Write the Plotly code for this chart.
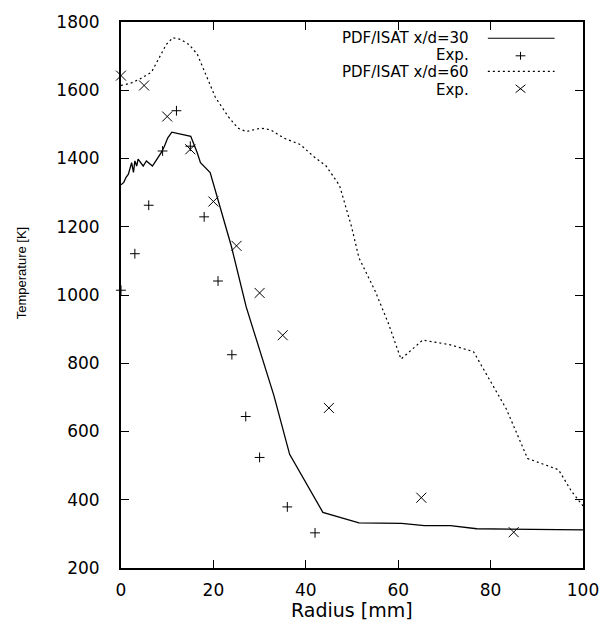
import plotly.graph_objects as go

# ---- data ----
r_pdf30 = [0, 0.6, 1.1, 1.6, 2.3, 2.7, 3.0, 3.4, 3.7, 4.2, 4.8, 5.5, 6.2, 6.8, 7.4, 8.0, 8.7, 9.4, 10.1, 11.0,
           15.1, 16.5, 17.2, 19.3, 21.4, 23.9, 27.1, 33.1, 36.5, 43.7, 51.5, 60.7, 65.7, 71.3, 77.0, 85.0, 100]
T_pdf30 = [1323, 1330, 1345, 1354, 1388, 1359, 1393, 1378, 1398, 1388, 1378, 1393, 1385, 1378, 1390, 1402, 1417, 1436, 1460, 1477,
           1465, 1417, 1388, 1359, 1258, 1142, 965, 705, 533, 363, 332, 331, 324, 324, 315, 314, 312]

r_pdf60 = [0, 2, 4.1, 6.6, 8.3, 9.8, 11.2, 12.9, 14.7, 16.5, 18.3, 20.4, 23.2, 25.3, 27.1, 30.3, 32.4, 35.2, 38.8,
           41.6, 44.4, 47.3, 49.9, 51.5, 55.0, 57.9, 60.6, 65.3, 71.3, 76.3, 77.7, 83.4, 88.0, 94.7, 97.5, 100]
T_pdf60 = [1614, 1620, 1633, 1653, 1696, 1734, 1754, 1749, 1734, 1706, 1648, 1580, 1523, 1489, 1479, 1489, 1484, 1460, 1441,
           1407, 1378, 1321, 1200, 1109, 1012, 916, 812, 868, 854, 834, 801, 666, 521, 488, 425, 382]

r_exp30 = [0, 3, 6, 9, 12, 15, 18, 21, 24, 27, 30, 36, 42]
T_exp30 = [1014, 1121, 1263, 1422, 1540, 1436, 1229, 1041, 825, 644, 524, 379, 303]

r_exp60 = [0, 5, 10, 15, 20, 25, 30, 35, 45, 65, 85]
T_exp60 = [1643, 1614, 1523, 1427, 1274, 1144, 1006, 882, 669, 406, 305]

legend_labels = ["PDF/ISAT x/d=30", "Exp.", "PDF/ISAT x/d=60", "Exp."]

# ---- layout geometry (pixels) ----
W, H = 611, 626
L, R, T, B = 121, 592, 14, 568


def px(x):
    return (x - L) / (R - L)


def py(y):
    return (B - y) / (B - T)


fig = go.Figure()
fig.add_trace(go.Scatter(x=r_pdf30, y=T_pdf30, mode="lines", line=dict(color="black", width=1.3),
                         showlegend=False))
fig.add_trace(go.Scatter(x=r_exp30, y=T_exp30, mode="markers", cliponaxis=False,
                         marker=dict(symbol="cross-thin", size=7, line=dict(color="black", width=1)),
                         showlegend=False))
fig.add_trace(go.Scatter(x=r_pdf60, y=T_pdf60, mode="lines", line=dict(color="black", width=1.2, dash="2px,3px"),
                         showlegend=False))
fig.add_trace(go.Scatter(x=r_exp60, y=T_exp60, mode="markers", cliponaxis=False,
                         marker=dict(symbol="x-thin", size=10, line=dict(color="black", width=1)),
                         showlegend=False))

font_main = "DejaVu Sans"
axis_common = dict(showline=True, linecolor="black", linewidth=2, mirror="allticks",
                   ticks="inside", ticklen=8, tickwidth=1.3, tickcolor="black",
                   showgrid=False, zeroline=False,
                   tickfont=dict(family=font_main, size=17, color="black"))

fig.update_xaxes(range=[0, 100], tickmode="linear", tick0=0, dtick=20, ticklabelstandoff=6, **axis_common)
fig.update_yaxes(range=[200, 1800], tickmode="linear", tick0=200, dtick=200, ticklabelstandoff=16, **axis_common)

annotations = []
shapes = []
rows_y = [30, 47.5, 65, 82.5]
for lab, yy in zip(legend_labels, rows_y):
    annotations.append(dict(x=px(477), y=py(yy), xref="paper", yref="paper", text=lab, showarrow=False,
                            xanchor="right", yanchor="middle", borderpad=0,
                            font=dict(family=font_main, size=15, color="black")))

# legend samples
shapes.append(dict(type="line", xref="paper", yref="paper", x0=px(495), x1=px(563), y0=py(30.5), y1=py(30.5),
                   line=dict(color="black", width=1.2)))
cx, cy = 528.3, 48.3
shapes.append(dict(type="line", xref="paper", yref="paper", x0=px(cx - 5), x1=px(cx + 5), y0=py(cy), y1=py(cy),
                   line=dict(color="black", width=1)))
shapes.append(dict(type="line", xref="paper", yref="paper", x0=px(cx), x1=px(cx), y0=py(cy - 4), y1=py(cy + 4),
                   line=dict(color="black", width=1)))
shapes.append(dict(type="line", xref="paper", yref="paper", x0=px(495), x1=px(563), y0=py(64), y1=py(64),
                   line=dict(color="black", width=1.2, dash="2px,3px")))
cx, cy = 528.3, 81.7
shapes.append(dict(type="line", xref="paper", yref="paper", x0=px(cx - 5), x1=px(cx + 5), y0=py(cy - 4), y1=py(cy + 4),
                   line=dict(color="black", width=1)))
shapes.append(dict(type="line", xref="paper", yref="paper", x0=px(cx - 5), x1=px(cx + 5), y0=py(cy + 4), y1=py(cy - 4),
                   line=dict(color="black", width=1)))

# axis titles
annotations.append(dict(x=px(356), y=py(611), xref="paper", yref="paper", text="Radius [mm]", showarrow=False,
                        xanchor="center", yanchor="middle", font=dict(family=font_main, size=19, color="black")))
annotations.append(dict(x=px(19), y=py(268), xref="paper", yref="paper", text="Temperature [K]", showarrow=False,
                        textangle=-90, xanchor="center", yanchor="middle",
                        font=dict(family="Liberation Sans", size=13, color="black")))

fig.update_layout(width=W, height=H, margin=dict(l=L, r=W - R, t=T, b=H - B, pad=0),
                  paper_bgcolor="white", plot_bgcolor="white", showlegend=False,
                  annotations=annotations, shapes=shapes)

fig.write_html("out.html")
